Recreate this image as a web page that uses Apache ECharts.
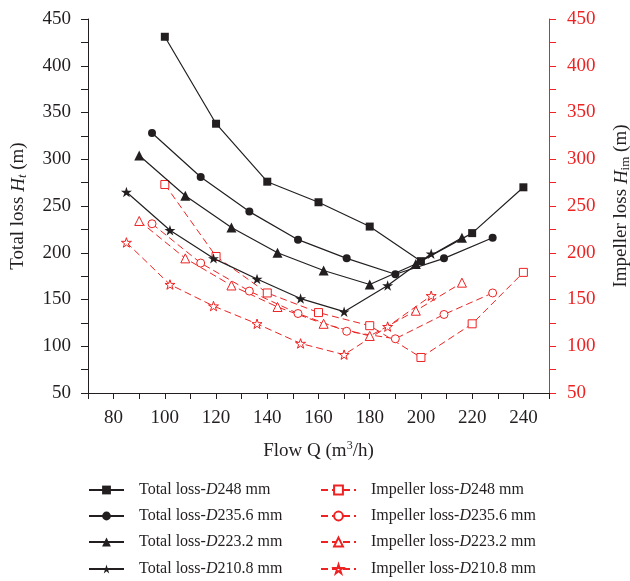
<!DOCTYPE html>
<html>
<head>
<meta charset="utf-8">
<script src="https://cdn.jsdelivr.net/npm/echarts@6/dist/echarts.min.js"></script>
<style>html,body{margin:0;padding:0;background:#fff}#c{width:630px;height:581px}</style>
</head>
<body>
<div id="c"></div>
<script>
// Flow values (m3/h) for each impeller diameter
const qD248 = [100, 120, 140, 160, 180, 200, 220, 240];
const qD2356 = [95, 114, 133, 152, 171, 190, 209, 228];
const qD2232 = [90, 108, 126, 144, 162, 180, 198, 216];
const qD2108 = [85, 102, 119, 136, 153, 170, 187, 204];

// Total loss (m)
const totalD248 = [431, 338, 276, 254, 228, 191, 221, 270];
const totalD2356 = [328, 281, 244, 214, 194, 177, 194, 216];
const totalD2232 = [304, 261, 227, 200, 181, 166, 188, 216];
const totalD2108 = [265, 224, 194, 172, 151, 137, 165, 199];

// Impeller loss (m)
const impD248 = [273, 196, 157, 136, 122, 88, 124, 179];
const impD2356 = [231, 189, 159, 135, 116, 108, 134, 157];
const impD2232 = [234, 194, 165, 142, 124, 111, 138, 168];
const impD2108 = [211, 166, 143, 124, 103, 91, 121, 154];

const xTickLabels = [80, 100, 120, 140, 160, 180, 200, 220, 240];
const yTickLabels = [50, 100, 150, 200, 250, 300, 350, 400, 450];

const totalNames = ['Total loss-D248 mm', 'Total loss-D235.6 mm', 'Total loss-D223.2 mm', 'Total loss-D210.8 mm'];
const impNames = ['Impeller loss-D248 mm', 'Impeller loss-D235.6 mm', 'Impeller loss-D223.2 mm', 'Impeller loss-D210.8 mm'];

const BLACK = '#231f20';
const RED = '#ee2222';
const FONT = '"Liberation Serif", "DejaVu Serif", serif';
const STAR = 'path://M50 0 L61.2 34.55 L97.55 34.55 L68.2 55.9 L79.4 90.45 L50 69.1 L20.6 90.45 L31.8 55.9 L2.45 34.55 L38.8 34.55 Z';

function pairs(xs, ys) { return xs.map((x, i) => [x, ys[i]]); }

function totalSeries(name, xs, ys, symbol, size) {
  return {
    name, type: 'line', yAxisIndex: 0, data: pairs(xs, ys),
    symbol, symbolSize: size, symbolKeepAspect: true,
    lineStyle: { color: BLACK, width: 1.2 },
    itemStyle: { color: BLACK },
    z: 3
  };
}
function impSeries(name, xs, ys, symbol, size) {
  return {
    name, type: 'line', yAxisIndex: 1, data: pairs(xs, ys),
    symbol, symbolSize: size, symbolKeepAspect: true,
    lineStyle: { color: RED, width: 1, type: [7, 4] },
    itemStyle: { color: '#fff', borderColor: RED, borderWidth: 1 },
    z: 2
  };
}

const legendRich = {
  i: { fontFamily: FONT, fontStyle: 'italic', fontSize: 16, color: BLACK, lineHeight: 16 },
};
function legendFmt(name) { return name.replace('-D', '-{i|D}'); }

const rowTops = [482, 508, 534, 561];
const legends = [];
totalNames.forEach((n, i) => legends.push({ name: n, left: 88, top: rowTops[i] }));
impNames.forEach((n, i) => legends.push({ name: n, left: 320, top: rowTops[i] }));

const chart = echarts.init(document.getElementById('c'), null, { renderer: 'canvas' });
chart.setOption({
  animation: false,
  backgroundColor: '#fff',
  textStyle: { fontFamily: FONT },
  grid: { left: 88, right: 81, top: 19, bottom: 188, containLabel: false, outerBoundsMode: 'none' },
  xAxis: {
    type: 'value', min: 70, max: 250, interval: 10,
    axisLine: { lineStyle: { color: BLACK, width: 1 } },
    axisTick: { inside: false, length: 6, lineStyle: { color: BLACK } },
    axisLabel: {
      color: BLACK, fontSize: 19, fontFamily: FONT, margin: 16,
      formatter: v => xTickLabels.includes(v) ? String(v) : ''
    },
    splitLine: { show: false },
    name: '{a|Flow Q (m}{s|3}{a|/h)}',
    nameLocation: 'middle', nameGap: 47,
    nameTextStyle: {
      rich: {
        a: { fontFamily: FONT, fontSize: 19, color: BLACK },
        s: { fontFamily: FONT, fontSize: 12, color: BLACK, verticalAlign: 'top', padding: [0, 0, 10, 0] }
      }
    }
  },
  yAxis: [
    {
      type: 'value', position: 'left', min: 50, max: 450, interval: 50,
      axisLine: { show: true, lineStyle: { color: BLACK, width: 1 } },
      axisTick: { show: true, inside: false, length: 7, lineStyle: { color: BLACK } },
      minorTick: { show: true, splitNumber: 2, length: 7, lineStyle: { color: BLACK } },
      axisLabel: { color: BLACK, fontSize: 19, fontFamily: FONT, margin: 17,
        formatter: v => yTickLabels.includes(v) ? String(v) : '' },
      splitLine: { show: false },
      name: '{a|Total loss }{i|H}{t|t}{a| (m)}',
      nameLocation: 'middle', nameGap: 59, nameRotate: 90,
      nameTextStyle: {
        rich: {
          a: { fontFamily: FONT, fontSize: 19, color: BLACK },
          i: { fontFamily: FONT, fontSize: 19, fontStyle: 'italic', color: BLACK },
          t: { fontFamily: FONT, fontSize: 13, fontStyle: 'italic', color: BLACK, verticalAlign: 'bottom', padding: [8, 0, 0, 0] }
        }
      }
    },
    {
      type: 'value', position: 'right', min: 50, max: 450, interval: 50,
      axisLine: { show: true, lineStyle: { color: RED, width: 1 } },
      axisTick: { show: true, inside: false, length: 7, lineStyle: { color: RED } },
      minorTick: { show: true, splitNumber: 2, length: 7, lineStyle: { color: RED } },
      axisLabel: { color: RED, fontSize: 19, fontFamily: FONT, margin: 18,
        formatter: v => yTickLabels.includes(v) ? String(v) : '' },
      splitLine: { show: false },
      name: '{a|Impeller loss }{i|H}{t|im}{a| (m)}',
      nameLocation: 'middle', nameGap: 62, nameRotate: 90,
      nameTextStyle: {
        rich: {
          a: { fontFamily: FONT, fontSize: 19, color: BLACK },
          i: { fontFamily: FONT, fontSize: 19, fontStyle: 'italic', color: BLACK },
          t: { fontFamily: FONT, fontSize: 13, color: BLACK, verticalAlign: 'bottom', padding: [8, 0, 0, 0] }
        }
      }
    }
  ],
  legend: legends.map(l => ({
    orient: 'horizontal', left: l.left, top: l.top,
    itemWidth: 35, itemHeight: 11, padding: 0,
    data: [l.name],
    formatter: legendFmt,
    textStyle: { fontFamily: FONT, fontSize: 16, color: BLACK, lineHeight: 16, padding: [0, 0, 0, 10], rich: legendRich }
  })),
  series: [
    impSeries(impNames[0], qD248, impD248, 'rect', 8),
    impSeries(impNames[1], qD2356, impD2356, 'circle', 8),
    impSeries(impNames[2], qD2232, impD2232, 'triangle', 9),
    impSeries(impNames[3], qD2108, impD2108, STAR, 10),
    totalSeries(totalNames[0], qD248, totalD248, 'rect', 8),
    totalSeries(totalNames[1], qD2356, totalD2356, 'circle', 8),
    totalSeries(totalNames[2], qD2232, totalD2232, 'triangle', 10),
    totalSeries(totalNames[3], qD2108, totalD2108, STAR, 11)
  ]
});
</script>
</body>
</html>
